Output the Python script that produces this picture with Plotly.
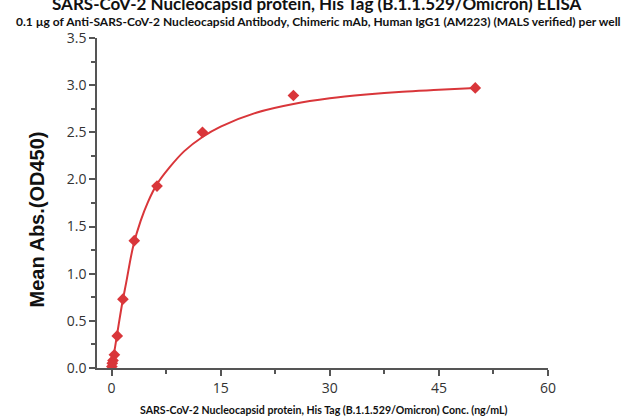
import plotly.graph_objects as go

# Measured points
conc = [50, 25, 12.5, 6.25, 3.125, 1.5625, 0.78125, 0.390625, 0.1953125, 0.09765625, 0.048828125]
od = [2.97, 2.89, 2.50, 1.93, 1.35, 0.73, 0.34, 0.14, 0.08, 0.05, 0.015]

# Fitted curve
curve_x = [0, 0.5, 1, 1.5, 2, 3, 4, 5, 6.25, 8, 10, 12.5, 15, 20, 25, 30, 35, 40, 45, 50]
curve_y = [0.0, 0.23, 0.47, 0.70, 0.90, 1.30, 1.56, 1.76, 1.95, 2.13, 2.30, 2.45, 2.56, 2.71, 2.80, 2.86, 2.90, 2.93, 2.95, 2.97]

x_ticks = [0, 15, 30, 45, 60]
y_ticks = [0.0, 0.5, 1.0, 1.5, 2.0, 2.5, 3.0, 3.5]

title = "SARS-CoV-2 Nucleocapsid protein, His Tag (B.1.1.529/Omicron) ELISA"
subtitle = "0.1 µg of Anti-SARS-CoV-2 Nucleocapsid Antibody, Chimeric mAb, Human IgG1 (AM223) (MALS verified) per well"
x_title = "SARS-CoV-2 Nucleocapsid protein, His Tag (B.1.1.529/Omicron) Conc. (ng/mL)"
y_title = "Mean Abs.(OD450)"

red = "#d9363a"
axis_col = "#555555"
text_col = "#333333"

fig = go.Figure()
fig.add_trace(go.Scatter(x=curve_x, y=curve_y, mode="lines", line=dict(color=red, width=2, shape="spline", smoothing=1.0),
                         hoverinfo="skip", showlegend=False))
fig.add_trace(go.Scatter(x=conc, y=od, mode="markers",
                         marker=dict(symbol="diamond", size=9, color=red), showlegend=False))

fig.update_layout(
    width=629, height=416,
    margin=dict(l=97, r=81, t=38, b=48),
    paper_bgcolor="white", plot_bgcolor="white",
    font=dict(family="Open Sans", color=text_col),
    xaxis=dict(range=[-2, 60], tickvals=x_ticks, ticktext=[str(v) for v in x_ticks],
               showgrid=False, zeroline=False, showline=True, linecolor=axis_col, linewidth=1.5,
               ticks="outside", ticklen=6, tickwidth=1.5, tickcolor=axis_col,
               tickfont=dict(size=14, family="Open Sans", color=text_col),
               minor=dict(ticks="outside", ticklen=4, tickwidth=1.5, tickcolor=axis_col, dtick=7.5, tick0=0, showgrid=False)),
    yaxis=dict(range=[0, 3.5], tickvals=y_ticks, ticktext=[f"{v:.1f}" for v in y_ticks],
               showgrid=False, zeroline=False, showline=True, linecolor=axis_col, linewidth=1.5,
               ticks="outside", ticklen=6, tickwidth=1.5, tickcolor=axis_col,
               tickfont=dict(size=14, family="Open Sans", color=text_col),
               minor=dict(ticks="outside", ticklen=4, tickwidth=1.5, tickcolor=axis_col, dtick=0.25, tick0=0, showgrid=False)),
    annotations=[
        dict(text="<b>" + title + "</b>", xref="paper", yref="paper", x=0.487, y=1.0, yshift=22,
             xanchor="center", yanchor="bottom", showarrow=False,
             font=dict(family="Lato", size=17, color="#111111")),
        dict(text="<b>" + subtitle + "</b>", xref="paper", yref="paper", x=0.491, y=1.0, yshift=7,
             xanchor="center", yanchor="bottom", showarrow=False,
             font=dict(family="Lato", size=12, color="#111111")),
        dict(text="<b>" + x_title + "</b>", xref="paper", yref="paper", x=0.503, y=0, yshift=-42,
             xanchor="center", yanchor="middle", showarrow=False,
             font=dict(family="Lato", size=10.6, color="#111111")),
        dict(text="<b>" + y_title + "</b>", xref="paper", yref="paper", x=0, xshift=-61, y=0.45,
             xanchor="center", yanchor="middle", showarrow=False, textangle=-90,
             font=dict(family="Liberation Sans", size=20, color="#111111")),
    ],
)

fig.write_html("out.html", post_script="document.body.style.margin='0';",
               config={"displayModeBar": False})
